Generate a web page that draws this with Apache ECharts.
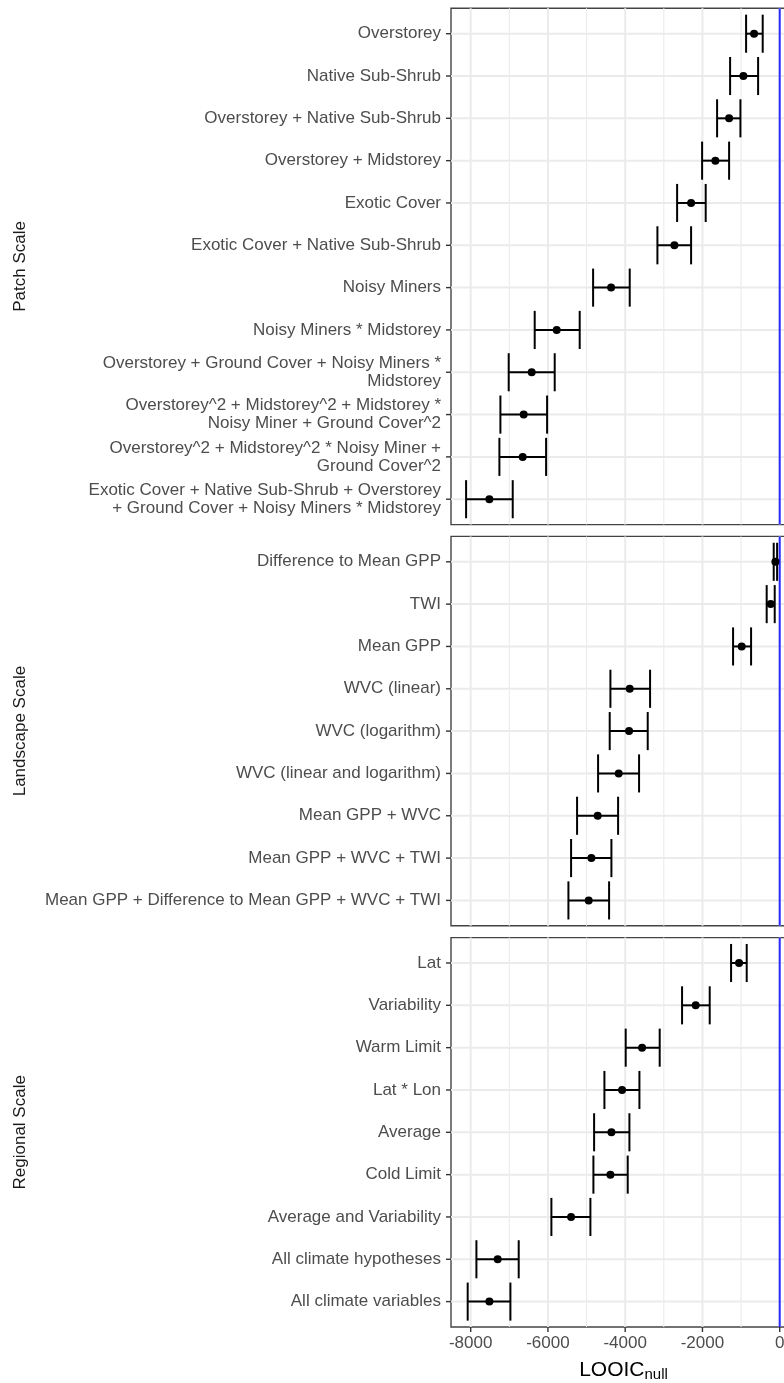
<!DOCTYPE html>
<html>
<head>
<meta charset="utf-8">
<script src="https://cdn.jsdelivr.net/npm/echarts@6/dist/echarts.min.js"></script>
<style>
html,body{margin:0;padding:0;background:#fff;overflow:hidden;}
#chart{width:800px;height:1383px;}
</style>
</head>
<body>
<div id="chart"></div>
<script>
// ---------- data ----------
const panelNames = ['Patch Scale', 'Landscape Scale', 'Regional Scale'];

const patchModels = [
  'Overstorey',
  'Native Sub-Shrub',
  'Overstorey + Native Sub-Shrub',
  'Overstorey + Midstorey',
  'Exotic Cover',
  'Exotic Cover + Native Sub-Shrub',
  'Noisy Miners',
  'Noisy Miners * Midstorey',
  'Overstorey + Ground Cover + Noisy Miners *\nMidstorey',
  'Overstorey^2 + Midstorey^2 + Midstorey *\nNoisy Miner + Ground Cover^2',
  'Overstorey^2 + Midstorey^2 * Noisy Miner +\nGround Cover^2',
  'Exotic Cover + Native Sub-Shrub + Overstorey\n+ Ground Cover + Noisy Miners * Midstorey'
];
const patchEst = [-663, -940, -1310, -1665, -2294, -2726, -4365, -5773, -6421, -6628, -6654, -7516];
const patchLo  = [-870, -1284, -1621, -2009, -2656, -3166, -4831, -6343, -7016, -7231, -7257, -8119];
const patchHi  = [-440, -559, -1017, -1310, -1916, -2294, -3883, -5178, -5825, -6022, -6048, -6912];

const landscapeModels = [
  'Difference to Mean GPP',
  'TWI',
  'Mean GPP',
  'WVC (linear)',
  'WVC (logarithm)',
  'WVC (linear and logarithm)',
  'Mean GPP + WVC',
  'Mean GPP + WVC + TWI',
  'Mean GPP + Difference to Mean GPP + WVC + TWI'
];
const landscapeEst = [-111, -233, -984, -3883, -3900, -4168, -4712, -4875, -4945];
const landscapeLo  = [-155, -337, -1207, -4383, -4401, -4702, -5246, -5401, -5470];
const landscapeHi  = [-67, -129, -741, -3356, -3417, -3641, -4184, -4357, -4417];

const regionalModels = [
  'Lat',
  'Variability',
  'Warm Limit',
  'Lat * Lon',
  'Average',
  'Cold Limit',
  'Average and Variability',
  'All climate hypotheses',
  'All climate variables'
];
const regionalEst = [-1052, -2175, -3563, -4081, -4357, -4383, -5401, -7301, -7516];
const regionalLo  = [-1259, -2528, -3987, -4538, -4805, -4823, -5911, -7852, -8078];
const regionalHi  = [-854, -1812, -3107, -3632, -3891, -3935, -4901, -6757, -6972];

const xMajorTicks = [-8000, -6000, -4000, -2000, 0];
const xMinorTicks = [-7000, -5000, -3000, -1000];
const nullLine = [0];

// ---------- build ----------
const FONT = '"Liberation Sans", Arial, Helvetica, sans-serif';
const panels = [
  { name: panelNames[0], cats: patchModels, est: patchEst, lo: patchLo, hi: patchHi },
  { name: panelNames[1], cats: landscapeModels, est: landscapeEst, lo: landscapeLo, hi: landscapeHi },
  { name: panelNames[2], cats: regionalModels, est: regionalEst, lo: regionalLo, hi: regionalHi }
];
const layout = [
  { top: 8.3, height: 516.3 },
  { top: 536.4, height: 389.4 },
  { top: 937.6, height: 389.4 }
];
const X_MIN = -8510, X_MAX = 422;
const TICK_LEN = 5;

const grids = layout.map(l => ({
  left: 451, width: 345, top: l.top, height: l.height,
  outerBoundsMode: 'none', containLabel: false,
  show: true, borderColor: '#444', borderWidth: 1.4, backgroundColor: '#fff'
}));

const xAxes = panels.map((p, i) => ({
  type: 'value', gridIndex: i, min: X_MIN, max: X_MAX,
  axisLine: { show: false }, splitLine: { show: false }, axisTick: { show: false },
  axisLabel: { show: i === 2, customValues: xMajorTicks, margin: 8, fontSize: 17, color: '#4d4d4d',
    fontFamily: FONT, formatter: v => String(v) },
  name: i === 2 ? '{a|LOOIC}{b|null}' : '',
  nameLocation: 'middle', nameGap: 31,
  nameTextStyle: { rich: {
    a: { fontSize: 21, color: '#000', fontFamily: FONT },
    b: { fontSize: 15, color: '#000', fontFamily: FONT, padding: [9, 0, 0, 0] }
  } }
}));

const yAxes = panels.map((p, i) => {
  const idx = p.cats.map((c, k) => k);
  return {
    type: 'value', gridIndex: i, min: -0.6, max: p.cats.length - 0.4, inverse: true,
    axisLine: { show: false }, splitLine: { show: false }, axisTick: { show: false },
    axisLabel: { customValues: idx, formatter: v => p.cats[Math.round(v)] || '', fontSize: 17,
      color: '#4d4d4d', margin: 10, lineHeight: 18, fontFamily: FONT, align: 'right' },
    name: p.name, nameLocation: 'middle', nameGap: 422,
    nameTextStyle: { fontSize: 17, color: '#1a1a1a', fontFamily: FONT }
  };
});

const series = [];
panels.forEach((p, i) => {
  const isBottom = i === panels.length - 1;
  // vertical grid lines (major + minor) and bottom ticks
  series.push({
    type: 'custom', xAxisIndex: i, yAxisIndex: i, silent: true, z: 1, clip: false,
    data: xMajorTicks.map(v => [v, 2]).concat(xMinorTicks.map(v => [v, 1.1])),
    encode: { x: 0 },
    renderItem: (params, api) => {
      const cs = params.coordSys;
      const x = api.coord([api.value(0), 0])[0];
      const w = api.value(1);
      const children = [{ type: 'line', shape: { x1: x, y1: cs.y, x2: x, y2: cs.y + cs.height },
        style: { stroke: '#ebebeb', lineWidth: w } }];
      if (isBottom && w > 1.5) {
        children.push({ type: 'line', shape: { x1: x, y1: cs.y + cs.height, x2: x, y2: cs.y + cs.height + TICK_LEN },
          style: { stroke: '#333', lineWidth: 1.4 } });
      }
      return { type: 'group', children };
    }
  });
  // horizontal grid lines at each model + left ticks
  series.push({
    type: 'custom', xAxisIndex: i, yAxisIndex: i, silent: true, z: 1, clip: false,
    data: p.cats.map((c, k) => [k]),
    encode: { y: 0 },
    renderItem: (params, api) => {
      const cs = params.coordSys;
      const y = api.coord([0, api.value(0)])[1];
      return { type: 'group', children: [
        { type: 'line', shape: { x1: cs.x, y1: y, x2: cs.x + cs.width, y2: y },
          style: { stroke: '#ebebeb', lineWidth: 2 } },
        { type: 'line', shape: { x1: cs.x - TICK_LEN, y1: y, x2: cs.x, y2: y },
          style: { stroke: '#333', lineWidth: 1.4 } }
      ] };
    }
  });
  // null reference line
  series.push({
    type: 'custom', xAxisIndex: i, yAxisIndex: i, silent: true, z: 2,
    data: nullLine.map(v => [v]),
    encode: { x: 0 },
    renderItem: (params, api) => {
      const cs = params.coordSys;
      const x = api.coord([api.value(0), 0])[0];
      return { type: 'line', shape: { x1: x, y1: cs.y, x2: x, y2: cs.y + cs.height },
        style: { stroke: '#2a2aff', lineWidth: 2 } };
    }
  });
  // error bars + points
  series.push({
    type: 'custom', xAxisIndex: i, yAxisIndex: i, z: 3,
    data: p.cats.map((c, k) => [k, p.lo[k], p.hi[k], p.est[k]]),
    encode: { y: 0, x: [1, 2, 3] },
    renderItem: (params, api) => {
      const y = api.value(0);
      const pl = api.coord([api.value(1), y]);
      const ph = api.coord([api.value(2), y]);
      const pe = api.coord([api.value(3), y]);
      const half = Math.abs(api.size([0, 0.9])[1]) / 2;
      const st = { stroke: '#000', lineWidth: 2 };
      return { type: 'group', children: [
        { type: 'line', shape: { x1: pl[0], y1: pl[1], x2: ph[0], y2: ph[1] }, style: st },
        { type: 'line', shape: { x1: pl[0], y1: pl[1] - half, x2: pl[0], y2: pl[1] + half }, style: st },
        { type: 'line', shape: { x1: ph[0], y1: ph[1] - half, x2: ph[0], y2: ph[1] + half }, style: st },
        { type: 'circle', shape: { cx: pe[0], cy: pe[1], r: 4 }, style: { fill: '#000' } }
      ] };
    }
  });
});

const chart = echarts.init(document.getElementById('chart'), null, { renderer: 'canvas' });
chart.setOption({
  animation: false,
  backgroundColor: '#fff',
  textStyle: { fontFamily: FONT },
  grid: grids,
  xAxis: xAxes,
  yAxis: yAxes,
  series: series
});
</script>
</body>
</html>
